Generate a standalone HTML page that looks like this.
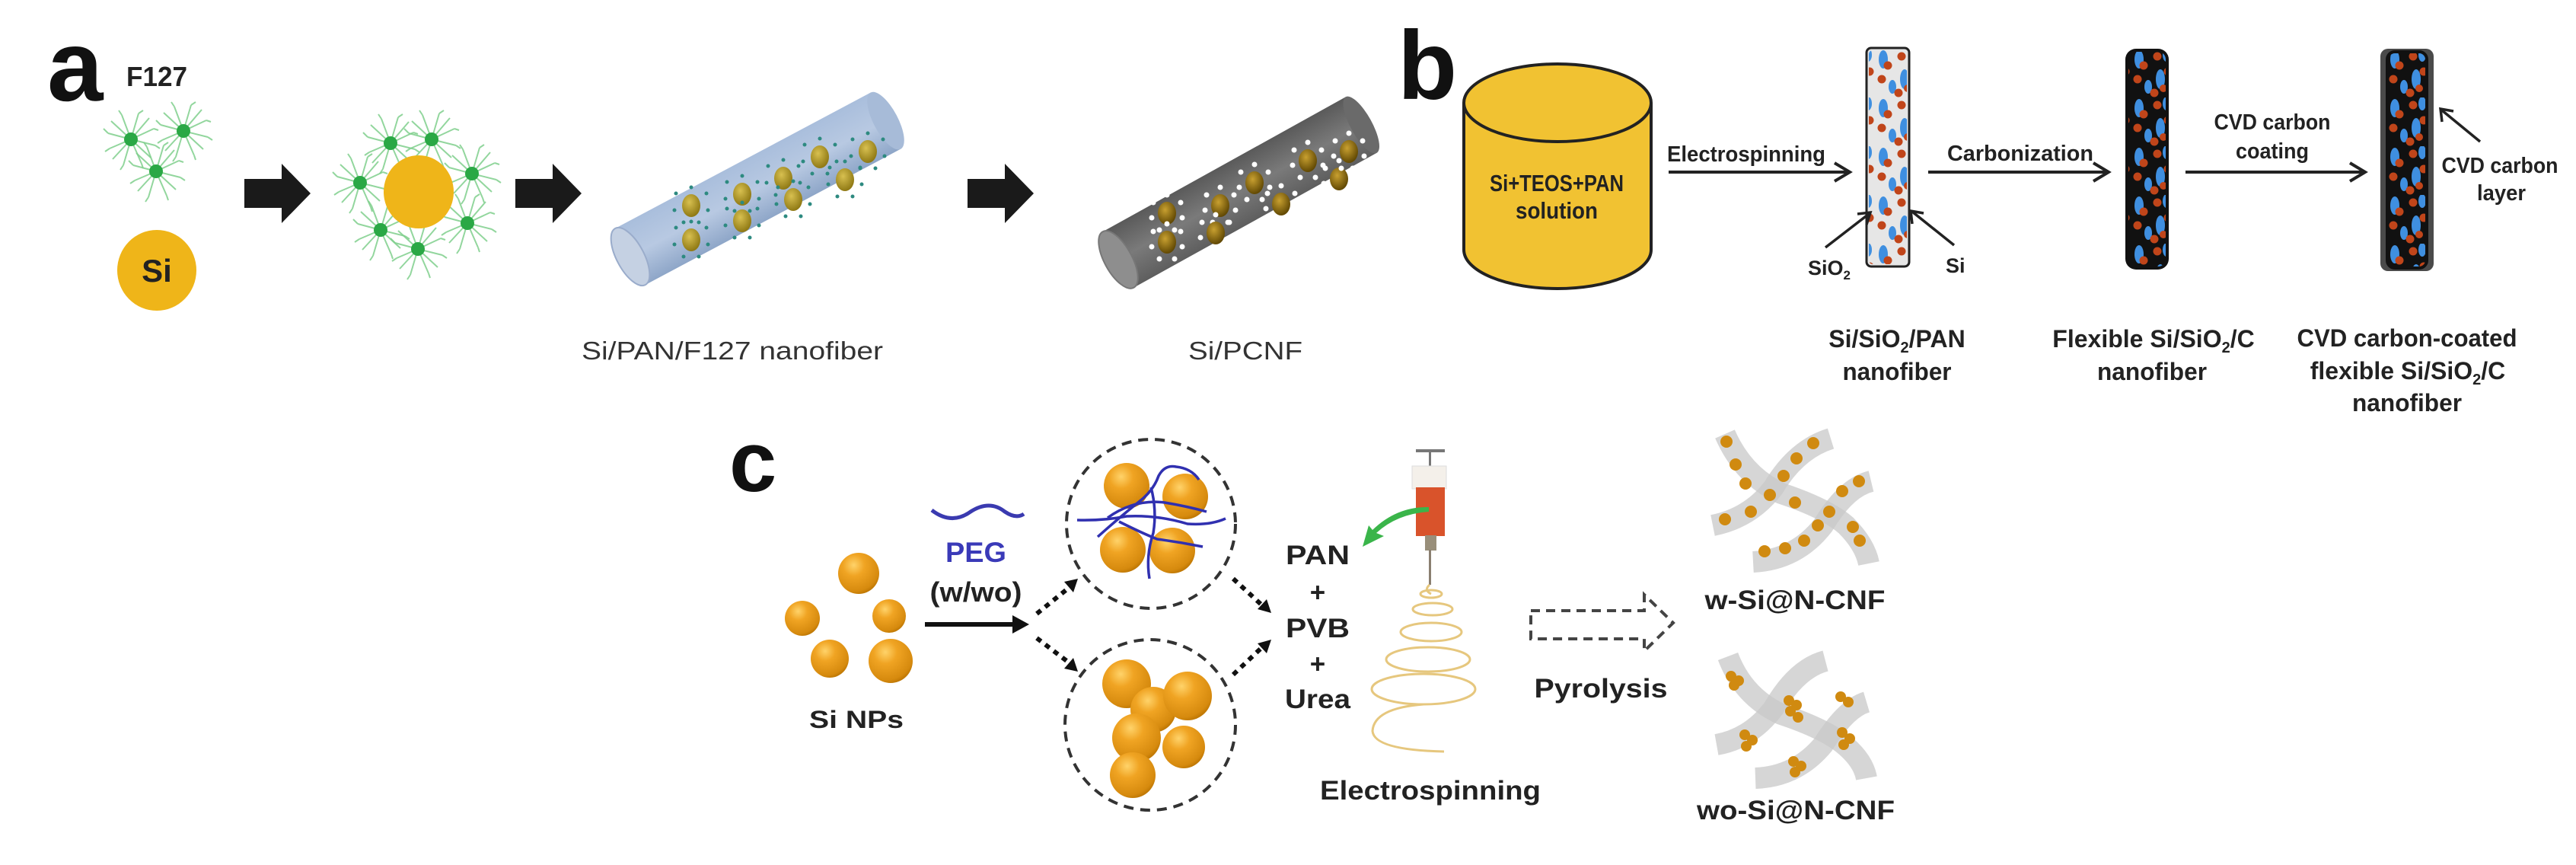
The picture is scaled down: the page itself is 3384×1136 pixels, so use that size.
<!DOCTYPE html>
<html><head><meta charset="utf-8">
<style>
html,body{margin:0;padding:0;background:#fff;}
svg{display:block;}
text{font-family:"Liberation Sans",sans-serif;}
</style></head>
<body>
<svg width="3384" height="1136" viewBox="0 0 3384 1136" xmlns="http://www.w3.org/2000/svg">
<defs>
  <radialGradient id="sph" cx="0.38" cy="0.3" r="0.75">
    <stop offset="0" stop-color="#ffd36a"/>
    <stop offset="0.35" stop-color="#f0a423"/>
    <stop offset="0.85" stop-color="#d68a0e"/>
    <stop offset="1" stop-color="#b87200"/>
  </radialGradient>
  <radialGradient id="gold" cx="0.4" cy="0.35" r="0.7">
    <stop offset="0" stop-color="#d8c050"/>
    <stop offset="1" stop-color="#8a7410"/>
  </radialGradient>
  <radialGradient id="gold2" cx="0.4" cy="0.35" r="0.7">
    <stop offset="0" stop-color="#c8a030"/>
    <stop offset="1" stop-color="#5a4200"/>
  </radialGradient>
  <linearGradient id="blueF" x1="0" y1="0" x2="0" y2="1">
    <stop offset="0" stop-color="#a9bedc"/>
    <stop offset="0.5" stop-color="#b8c9e2"/>
    <stop offset="1" stop-color="#8ea6c8"/>
  </linearGradient>
  <linearGradient id="grayF" x1="0" y1="0" x2="0" y2="1">
    <stop offset="0" stop-color="#5a5a5a"/>
    <stop offset="0.5" stop-color="#7a7a7a"/>
    <stop offset="1" stop-color="#5e5e5e"/>
  </linearGradient>
  <pattern id="blobs" width="56" height="64" patternUnits="userSpaceOnUse">
    <ellipse cx="10" cy="14" rx="6" ry="12" fill="#3f8fe0"/>
    <ellipse cx="38" cy="40" rx="6" ry="13" fill="#3f8fe0"/>
    <ellipse cx="46" cy="8" rx="5" ry="9" fill="#3f8fe0"/>
    <ellipse cx="22" cy="50" rx="5" ry="9" fill="#3f8fe0"/>
    <circle cx="16" cy="22" r="5.5" fill="#c0451a"/>
    <circle cx="34" cy="10" r="5.5" fill="#c0451a"/>
    <circle cx="48" cy="30" r="5.5" fill="#c0451a"/>
    <circle cx="8" cy="40" r="5.5" fill="#c0451a"/>
    <circle cx="30" cy="58" r="5.5" fill="#c0451a"/>
    <circle cx="42" cy="52" r="5" fill="#c0451a"/>
  </pattern>
  <g id="mic">
    <g stroke="#7fcf8c" stroke-width="2" fill="none" opacity="0.85">
      <path d="M0 0 L-30 -8 M0 0 L-28 12 M0 0 L-12 -32 M0 0 L10 -34 M0 0 L30 -14 M0 0 L32 8 M0 0 L14 32 M0 0 L-10 34 M0 0 L-24 26 M0 0 L24 -28 M0 0 L26 24 M0 0 L-26 -24"/>
      <path d="M-30 -8 l-6 -6 M-12 -32 l-4 -6 M10 -34 l6 -4 M30 -14 l6 2 M32 8 l6 4 M14 32 l2 6 M-10 34 l-4 6 M-28 12 l-6 4"/>
    </g>
    <circle r="9" fill="#2aa845"/>
  </g>
  <g id="tealdots" fill="#2d8a80">
    <circle cx="-20" cy="-16" r="2.5"/><circle cx="20" cy="-16" r="2.5"/><circle cx="-22" cy="6" r="2.5"/><circle cx="22" cy="6" r="2.5"/><circle cx="-10" cy="22" r="2.5"/><circle cx="10" cy="22" r="2.5"/><circle cx="0" cy="-24" r="2.5"/>
  </g>
  <g id="whdots" fill="#fff">
    <circle cx="-18" cy="-14" r="3.5"/><circle cx="18" cy="-14" r="3.5"/><circle cx="-20" cy="6" r="3.5"/><circle cx="20" cy="6" r="3.5"/><circle cx="-10" cy="22" r="3.5"/><circle cx="10" cy="22" r="3.5"/><circle cx="0" cy="-24" r="3.5"/>
  </g>
  <marker id="ah" markerWidth="10" markerHeight="10" refX="8" refY="5" orient="auto" markerUnits="userSpaceOnUse">
    <path d="M0 0 L9 5 L0 10" fill="none" stroke="#222" stroke-width="0"/>
  </marker>
</defs>

<!-- ================= PART A ================= -->
<text x="62" y="132" font-size="132" font-weight="bold" fill="#111">a</text>
<text x="166" y="113" font-size="36" font-weight="bold" fill="#222" textLength="80" lengthAdjust="spacingAndGlyphs">F127</text>
<use href="#mic" x="172" y="183"/>
<use href="#mic" x="241" y="172"/>
<use href="#mic" x="205" y="225"/>
<ellipse cx="206" cy="355" rx="52" ry="53" fill="#efb519"/>
<text x="206" y="370" font-size="42" font-weight="bold" fill="#222" text-anchor="middle">Si</text>

<!-- block arrows -->
<path d="M321 235 H370 V215 L408 254 L370 293 V273 H321 Z" fill="#1a1a1a"/>
<path d="M677 235 H726 V215 L764 254 L726 293 V273 H677 Z" fill="#1a1a1a"/>
<path d="M1271 235 H1320 V215 L1358 254 L1320 293 V273 H1271 Z" fill="#1a1a1a"/>

<!-- micelles around Si -->
<use href="#mic" x="513" y="188"/>
<use href="#mic" x="567" y="183"/>
<use href="#mic" x="620" y="228"/>
<use href="#mic" x="614" y="293"/>
<use href="#mic" x="549" y="327"/>
<use href="#mic" x="500" y="302"/>
<use href="#mic" x="473" y="240"/>
<ellipse cx="550" cy="252" rx="46" ry="48" fill="#efb519"/>

<!-- blue fiber -->
<g transform="translate(828,337) rotate(-28)">
  <rect x="0" y="-42" width="380" height="84" fill="url(#blueF)"/>
  <ellipse cx="380" cy="0" rx="16" ry="42" fill="#a7bbd8"/>
  <ellipse cx="0" cy="0" rx="18" ry="42" fill="#c5d1e3" stroke="#9aaccb" stroke-width="2"/>
</g>
<g>
  <g transform="translate(908,270)"><use href="#tealdots"/><ellipse rx="12" ry="15" fill="url(#gold)"/></g>
  <g transform="translate(908,315)"><use href="#tealdots"/><ellipse rx="12" ry="15" fill="url(#gold)"/></g>
  <g transform="translate(975,255)"><use href="#tealdots"/><ellipse rx="12" ry="15" fill="url(#gold)"/></g>
  <g transform="translate(975,290)"><use href="#tealdots"/><ellipse rx="12" ry="15" fill="url(#gold)"/></g>
  <g transform="translate(1029,234)"><use href="#tealdots"/><ellipse rx="12" ry="15" fill="url(#gold)"/></g>
  <g transform="translate(1042,262)"><use href="#tealdots"/><ellipse rx="12" ry="15" fill="url(#gold)"/></g>
  <g transform="translate(1077,206)"><use href="#tealdots"/><ellipse rx="12" ry="15" fill="url(#gold)"/></g>
  <g transform="translate(1110,236)"><use href="#tealdots"/><ellipse rx="12" ry="15" fill="url(#gold)"/></g>
  <g transform="translate(1140,199)"><use href="#tealdots"/><ellipse rx="12" ry="15" fill="url(#gold)"/></g>
</g>
<text x="962" y="472" font-size="33" fill="#333" text-anchor="middle" textLength="396" lengthAdjust="spacingAndGlyphs">Si/PAN/F127 nanofiber</text>

<!-- gray fiber -->
<g transform="translate(1469,341) rotate(-29)">
  <rect x="0" y="-42" width="365" height="84" fill="url(#grayF)"/>
  <ellipse cx="365" cy="0" rx="14" ry="42" fill="#6a6a6a"/>
  <ellipse cx="0" cy="0" rx="18" ry="42" fill="#8e8e8e" stroke="#777" stroke-width="2"/>
</g>
<g>
  <g transform="translate(1533,280)"><use href="#whdots"/><ellipse rx="12" ry="15" fill="url(#gold2)"/></g>
  <g transform="translate(1533,318)"><use href="#whdots"/><ellipse rx="12" ry="15" fill="url(#gold2)"/></g>
  <g transform="translate(1603,270)"><use href="#whdots"/><ellipse rx="12" ry="15" fill="url(#gold2)"/></g>
  <g transform="translate(1597,306)"><use href="#whdots"/><ellipse rx="12" ry="15" fill="url(#gold2)"/></g>
  <g transform="translate(1648,240)"><use href="#whdots"/><ellipse rx="12" ry="15" fill="url(#gold2)"/></g>
  <g transform="translate(1683,268)"><use href="#whdots"/><ellipse rx="12" ry="15" fill="url(#gold2)"/></g>
  <g transform="translate(1718,211)"><use href="#whdots"/><ellipse rx="12" ry="15" fill="url(#gold2)"/></g>
  <g transform="translate(1759,235)"><use href="#whdots"/><ellipse rx="12" ry="15" fill="url(#gold2)"/></g>
  <g transform="translate(1772,199)"><use href="#whdots"/><ellipse rx="12" ry="15" fill="url(#gold2)"/></g>
</g>
<text x="1636" y="472" font-size="33" fill="#333" text-anchor="middle" textLength="150" lengthAdjust="spacingAndGlyphs">Si/PCNF</text>

<!-- ================= PART B ================= -->
<text x="1836" y="130" font-size="128" font-weight="bold" fill="#111">b</text>
<!-- cylinder -->
<path d="M1923 135 V328 A123 51 0 0 0 2169 328 V135" fill="#f1c232" stroke="#222" stroke-width="4"/>
<ellipse cx="2046" cy="135" rx="123" ry="51" fill="#f1c232" stroke="#222" stroke-width="4"/>
<text x="2045" y="251" font-size="31" font-weight="bold" fill="#222" text-anchor="middle" textLength="176" lengthAdjust="spacingAndGlyphs">Si+TEOS+PAN</text>
<text x="2045" y="287" font-size="31" font-weight="bold" fill="#222" text-anchor="middle" textLength="108" lengthAdjust="spacingAndGlyphs">solution</text>

<g stroke="#222" stroke-width="4" fill="none">
  <line x1="2192" y1="226" x2="2428" y2="226"/>
  <path d="M2410 214 L2430 226 L2410 238"/>
  <line x1="2533" y1="226" x2="2768" y2="226"/>
  <path d="M2750 214 L2770 226 L2750 238"/>
  <line x1="2871" y1="226" x2="3105" y2="226"/>
  <path d="M3087 214 L3107 226 L3087 238"/>
</g>
<text x="2190" y="212" font-size="29" font-weight="bold" fill="#222" textLength="208" lengthAdjust="spacingAndGlyphs">Electrospinning</text>
<text x="2558" y="211" font-size="29" font-weight="bold" fill="#222" textLength="192" lengthAdjust="spacingAndGlyphs">Carbonization</text>
<text x="2985" y="170" font-size="29" font-weight="bold" fill="#222" text-anchor="middle" textLength="153" lengthAdjust="spacingAndGlyphs">CVD carbon</text>
<text x="2985" y="208" font-size="29" font-weight="bold" fill="#222" text-anchor="middle" textLength="96" lengthAdjust="spacingAndGlyphs">coating</text>

<!-- fiber 1 -->
<rect x="2452" y="63" width="56" height="287" rx="6" fill="#e6e6e6" stroke="#222" stroke-width="3"/>
<rect x="2455" y="66" width="50" height="281" rx="5" fill="url(#blobs)"/>
<!-- fiber 2 -->
<rect x="2792" y="64" width="57" height="290" rx="14" fill="#111"/>
<rect x="2796" y="68" width="49" height="282" rx="10" fill="url(#blobs)"/>
<!-- fiber 3 -->
<rect x="3127" y="64" width="70" height="292" rx="10" fill="#4a4a4a"/>
<rect x="3134" y="66" width="56" height="288" rx="12" fill="#111"/>
<rect x="3138" y="70" width="48" height="280" rx="8" fill="url(#blobs)"/>

<!-- pointers -->
<g stroke="#222" stroke-width="3.5" fill="none">
  <line x1="2398" y1="325" x2="2455" y2="281"/>
  <path d="M2440 281 L2457 279 L2452 295"/>
  <line x1="2567" y1="322" x2="2512" y2="278"/>
  <path d="M2512 294 L2510 277 L2527 280"/>
  <line x1="3258" y1="186" x2="3208" y2="145"/>
  <path d="M3208 160 L3206 143 L3223 146"/>
</g>
<text x="2375" y="361" font-size="27" font-weight="bold" fill="#222">SiO<tspan font-size="17" dy="6">2</tspan></text>
<text x="2556" y="358" font-size="27" font-weight="bold" fill="#222">Si</text>
<text x="3284" y="227" font-size="29" font-weight="bold" fill="#222" text-anchor="middle" textLength="153" lengthAdjust="spacingAndGlyphs">CVD carbon</text>
<text x="3286" y="263" font-size="29" font-weight="bold" fill="#222" text-anchor="middle" textLength="64" lengthAdjust="spacingAndGlyphs">layer</text>

<!-- bottom labels b -->
<g font-size="32" font-weight="bold" fill="#222" text-anchor="middle">
  <text x="2492" y="456">Si/SiO<tspan font-size="20" dy="7">2</tspan><tspan dy="-7">/PAN</tspan></text>
  <text x="2492" y="499" textLength="143" lengthAdjust="spacingAndGlyphs">nanofiber</text>
  <text x="2829" y="456">Flexible Si/SiO<tspan font-size="20" dy="7">2</tspan><tspan dy="-7">/C</tspan></text>
  <text x="2827" y="499" textLength="144" lengthAdjust="spacingAndGlyphs">nanofiber</text>
  <text x="3162" y="455" textLength="289" lengthAdjust="spacingAndGlyphs">CVD carbon-coated</text>
  <text x="3163" y="498">flexible Si/SiO<tspan font-size="20" dy="7">2</tspan><tspan dy="-7">/C</tspan></text>
  <text x="3162" y="540" textLength="144" lengthAdjust="spacingAndGlyphs">nanofiber</text>
</g>

<!-- ================= PART C ================= -->
<text x="958" y="645" font-size="112" font-weight="bold" fill="#111">c</text>
<circle cx="1128" cy="753" r="27" fill="url(#sph)"/>
<circle cx="1054" cy="812" r="23" fill="url(#sph)"/>
<circle cx="1168" cy="809" r="22" fill="url(#sph)"/>
<circle cx="1090" cy="865" r="25" fill="url(#sph)"/>
<circle cx="1170" cy="868" r="29" fill="url(#sph)"/>
<text x="1125" y="956" font-size="32" font-weight="bold" fill="#222" text-anchor="middle" textLength="124" lengthAdjust="spacingAndGlyphs">Si NPs</text>

<path d="M1224 670 Q1250 690 1275 672 Q1300 656 1320 672 Q1335 682 1345 675" fill="none" stroke="#3a3ab0" stroke-width="5"/>
<text x="1282" y="738" font-size="37" font-weight="bold" fill="#3a3ab8" text-anchor="middle" textLength="80" lengthAdjust="spacingAndGlyphs">PEG</text>
<text x="1282" y="790" font-size="36" font-weight="bold" fill="#222" text-anchor="middle" textLength="121" lengthAdjust="spacingAndGlyphs">(w/wo)</text>
<line x1="1215" y1="820" x2="1335" y2="820" stroke="#111" stroke-width="6"/>
<path d="M1330 808 L1352 820 L1330 832 Z" fill="#111"/>

<!-- dashed circles -->
<circle cx="1512" cy="688" r="111" fill="none" stroke="#333" stroke-width="4" stroke-dasharray="13 9"/>
<circle cx="1511" cy="952" r="112" fill="none" stroke="#333" stroke-width="4" stroke-dasharray="13 9"/>
<circle cx="1480" cy="638" r="30" fill="url(#sph)"/>
<circle cx="1557" cy="652" r="30" fill="url(#sph)"/>
<circle cx="1475" cy="722" r="30" fill="url(#sph)"/>
<circle cx="1540" cy="723" r="30" fill="url(#sph)"/>
<g fill="none" stroke="#3030b0" stroke-width="3.5">
  <path d="M1415 683 Q1450 684 1480 678 Q1520 676 1560 688 Q1590 690 1610 681"/>
  <path d="M1442 705 Q1470 680 1495 660 Q1515 645 1522 625 Q1530 610 1545 613 Q1565 615 1575 630"/>
  <path d="M1510 760 Q1505 730 1515 700 Q1520 670 1512 640"/>
  <path d="M1470 685 Q1500 700 1520 708 Q1550 712 1580 718"/>
  <path d="M1455 680 Q1490 655 1530 660 Q1560 665 1585 672"/>
</g>
<circle cx="1480" cy="898" r="32" fill="url(#sph)"/>
<circle cx="1515" cy="932" r="30" fill="url(#sph)"/>
<circle cx="1560" cy="914" r="32" fill="url(#sph)"/>
<circle cx="1493" cy="969" r="32" fill="url(#sph)"/>
<circle cx="1555" cy="981" r="28" fill="url(#sph)"/>
<circle cx="1488" cy="1018" r="30" fill="url(#sph)"/>

<!-- dotted arrows -->
<g stroke="#111" stroke-width="6" stroke-dasharray="7 7" fill="none">
  <line x1="1362" y1="806" x2="1404" y2="772"/>
  <line x1="1362" y1="838" x2="1404" y2="870"/>
  <line x1="1620" y1="760" x2="1658" y2="795"/>
  <line x1="1620" y1="886" x2="1658" y2="850"/>
</g>
<g fill="#111">
  <path d="M1398 764 L1416 760 L1410 778 Z"/>
  <path d="M1398 878 L1416 882 L1410 864 Z"/>
  <path d="M1652 800 L1670 805 L1664 787 Z"/>
  <path d="M1652 845 L1670 840 L1664 858 Z"/>
</g>

<g font-size="35" font-weight="bold" fill="#222" text-anchor="middle">
  <text x="1731" y="741" textLength="84" lengthAdjust="spacingAndGlyphs">PAN</text>
  <text x="1731" y="790">+</text>
  <text x="1731" y="837" textLength="84" lengthAdjust="spacingAndGlyphs">PVB</text>
  <text x="1731" y="884">+</text>
  <text x="1731" y="930" textLength="86" lengthAdjust="spacingAndGlyphs">Urea</text>
</g>

<!-- syringe -->
<rect x="1860" y="590" width="38" height="4" fill="#777"/>
<rect x="1877" y="592" width="3" height="50" fill="#777"/>
<rect x="1855" y="612" width="45" height="30" fill="#f4f0ea" stroke="#ddd" stroke-width="1"/>
<rect x="1860" y="640" width="38" height="64" fill="#d9532b"/>
<rect x="1872" y="703" width="15" height="20" fill="#998f7a"/>
<rect x="1877" y="722" width="3" height="46" fill="#8a7f70"/>
<path d="M1877 672 Q1835 675 1808 700 L1818 704 L1790 718 L1798 690 L1803 696 Q1835 665 1877 666 Z" fill="#3ab54a"/>
<!-- spiral -->
<g fill="none" stroke="#e6c77e" stroke-width="3">
  <path d="M1878 768 Q1870 775 1880 780"/>
  <ellipse cx="1880" cy="780" rx="14" ry="5"/>
  <ellipse cx="1882" cy="800" rx="26" ry="8"/>
  <ellipse cx="1880" cy="830" rx="40" ry="12"/>
  <ellipse cx="1876" cy="866" rx="55" ry="16"/>
  <ellipse cx="1870" cy="905" rx="68" ry="20"/>
  <path d="M1870 925 Q1805 930 1803 960 Q1805 985 1897 987"/>
</g>
<text x="1879" y="1050" font-size="35" font-weight="bold" fill="#222" text-anchor="middle" textLength="290" lengthAdjust="spacingAndGlyphs">Electrospinning</text>

<!-- hollow dashed arrow -->
<path d="M2011 802 H2160 V781 L2198 818 L2160 855 V839 H2011 Z" fill="none" stroke="#444" stroke-width="4" stroke-dasharray="12 8"/>
<text x="2103" y="916" font-size="35" font-weight="bold" fill="#222" text-anchor="middle" textLength="175" lengthAdjust="spacingAndGlyphs">Pyrolysis</text>

<!-- w-Si fibers -->
<g fill="none" stroke="#c8c8c8" stroke-opacity="0.75" stroke-width="28" stroke-linecap="butt">
  <path d="M2266 570 Q2290 625 2340 648 Q2400 668 2425 690 Q2450 715 2455 740"/>
  <path d="M2250 690 Q2300 680 2330 640 Q2360 590 2405 576"/>
  <path d="M2303 738 Q2360 735 2395 690 Q2425 640 2458 632"/>
</g>
<g fill="#d08a10">
  <circle cx="2268" cy="580" r="8"/><circle cx="2280" cy="610" r="8"/><circle cx="2293" cy="635" r="8"/><circle cx="2325" cy="650" r="8"/>
  <circle cx="2358" cy="660" r="8"/><circle cx="2403" cy="672" r="8"/><circle cx="2434" cy="692" r="8"/><circle cx="2443" cy="710" r="8"/>
  <circle cx="2266" cy="682" r="8"/><circle cx="2300" cy="672" r="8"/><circle cx="2343" cy="625" r="8"/><circle cx="2360" cy="602" r="8"/><circle cx="2382" cy="582" r="8"/>
  <circle cx="2318" cy="724" r="8"/><circle cx="2345" cy="720" r="8"/><circle cx="2370" cy="710" r="8"/><circle cx="2388" cy="690" r="8"/><circle cx="2420" cy="645" r="8"/><circle cx="2442" cy="632" r="8"/>
</g>
<text x="2358" y="800" font-size="35" font-weight="bold" fill="#222" text-anchor="middle" textLength="237" lengthAdjust="spacingAndGlyphs">w-Si@N-CNF</text>

<g fill="none" stroke="#c8c8c8" stroke-opacity="0.75" stroke-width="28">
  <path d="M2270 862 Q2290 915 2340 938 Q2400 958 2425 980 Q2448 1000 2452 1022"/>
  <path d="M2255 978 Q2300 970 2330 930 Q2360 878 2398 868"/>
  <path d="M2306 1022 Q2360 1020 2395 978 Q2425 930 2452 922"/>
</g>
<g fill="#d08a10">
  <circle cx="2274" cy="888" r="7"/><circle cx="2284" cy="894" r="7"/><circle cx="2278" cy="900" r="7"/>
  <circle cx="2350" cy="920" r="7"/><circle cx="2360" cy="926" r="7"/><circle cx="2352" cy="934" r="7"/><circle cx="2362" cy="942" r="7"/>
  <circle cx="2418" cy="915" r="7"/><circle cx="2428" cy="922" r="7"/>
  <circle cx="2292" cy="965" r="7"/><circle cx="2302" cy="972" r="7"/><circle cx="2294" cy="980" r="7"/>
  <circle cx="2420" cy="962" r="7"/><circle cx="2430" cy="970" r="7"/><circle cx="2422" cy="978" r="7"/>
  <circle cx="2356" cy="1000" r="7"/><circle cx="2366" cy="1006" r="7"/><circle cx="2358" cy="1014" r="7"/>
</g>
<text x="2359" y="1076" font-size="35" font-weight="bold" fill="#222" text-anchor="middle" textLength="260" lengthAdjust="spacingAndGlyphs">wo-Si@N-CNF</text>
</svg>
</body></html>
